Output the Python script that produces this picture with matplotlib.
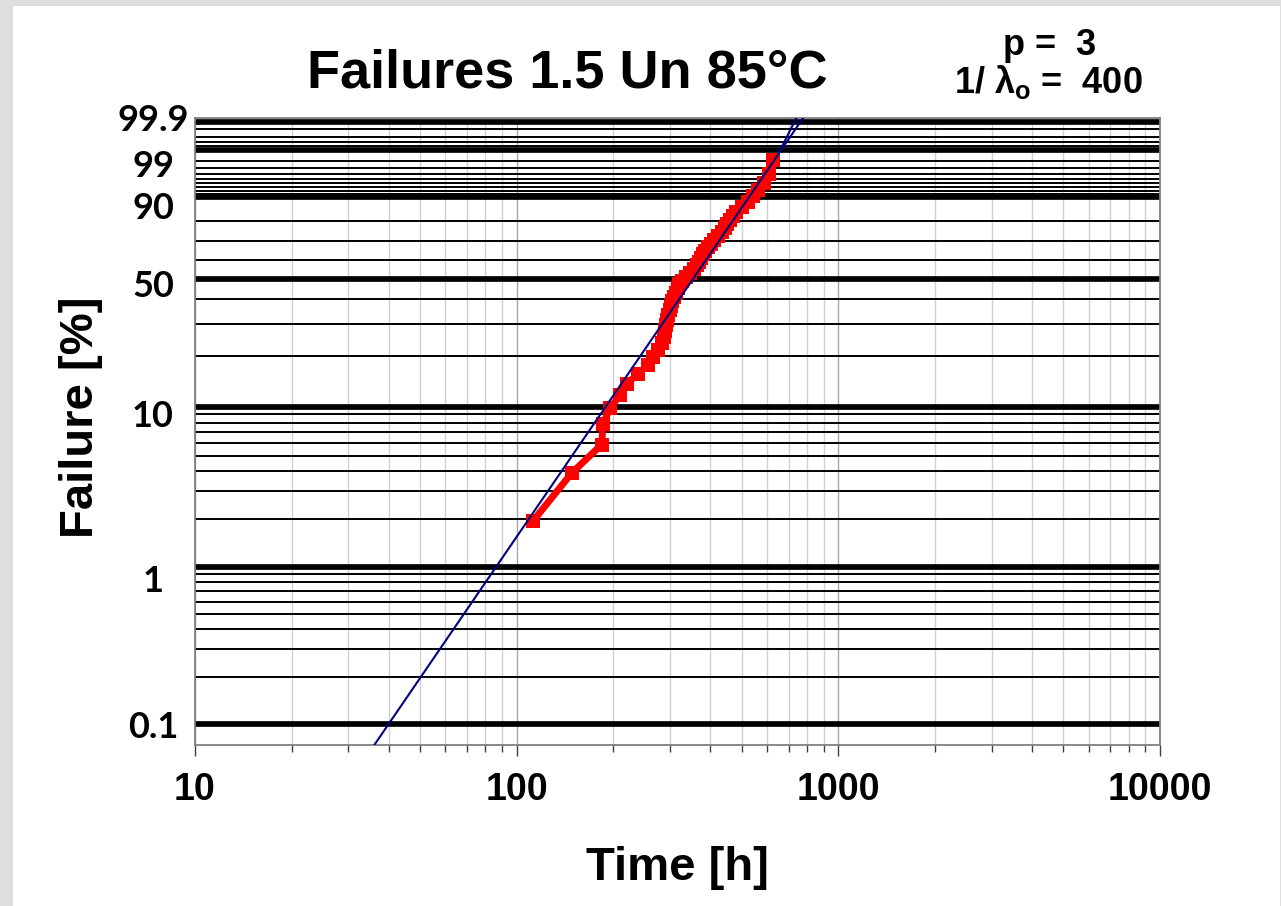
import numpy as np
import matplotlib
matplotlib.use("Agg")
import matplotlib.pyplot as plt
from matplotlib.patches import Rectangle
from matplotlib.ticker import FixedLocator, FixedFormatter, NullLocator, LogLocator

# ---------------- data ----------------
time_h = [112.6, 148.5, 183.8, 185.5, 195, 209.5, 219.8, 238.3, 256, 265,
          275, 283, 287, 289, 291, 293, 295, 300, 302, 305,
          308, 313, 317, 320, 326.5, 336, 345.7, 355.7, 363.5, 368.7,
          374, 379.5, 386.3, 393.3, 401.8, 410.5, 422.4, 434.6, 444, 450.5,
          460.3, 470.3, 480.5, 501.4, 523.5, 542.7, 562.3, 587, 608.5, 626]
failure_pct = [1.96, 3.92, 5.88, 7.84, 9.80, 11.76, 13.73, 15.69, 17.65, 19.61,
               21.57, 23.53, 25.49, 27.45, 29.41, 31.37, 33.33, 35.29, 37.25, 39.22,
               41.18, 43.14, 45.10, 47.06, 49.02, 50.98, 52.94, 54.90, 56.86, 58.82,
               60.78, 62.75, 64.71, 66.67, 68.63, 70.59, 72.55, 74.51, 76.47, 78.43,
               80.39, 82.35, 84.31, 86.27, 88.24, 90.20, 92.16, 94.12, 96.08, 98.04]

shape_p = 3
scale_inv_lambda = 400
fit_time = [36, 780]

branch_time = [650, 760]
branch_pct = [98.64, 99.972]

x_ticks = [10, 100, 1000, 10000]
x_tick_labels = ["10", "100", "1000", "10000"]
y_label_vals = [0.1, 1, 10, 50, 90, 99, 99.9]
y_label_txt = ["0.1", "1", "10", "50", "90", "99", "99.9"]
y_label_drop_px = [14, 25, 20, 18, 22, 27, 9]

thick_pct = [0.1, 1, 10, 50, 90, 99, 99.9]
thin_pct = [0.2, 0.3, 0.4, 0.5, 0.6, 0.7, 0.8, 0.9,
            2, 3, 4, 5, 6, 7, 8, 9,
            20, 30, 40, 60, 70, 80,
            91, 92, 93, 94, 95, 96, 97, 98,
            99.2, 99.4, 99.6, 99.8]

# ---------------- weibull scale ----------------
def fwd(p):
    p = np.asarray(p, dtype=float)
    with np.errstate(all="ignore"):
        return np.log(-np.log(1.0 - p / 100.0))

def inv(w):
    w = np.asarray(w, dtype=float)
    with np.errstate(all="ignore"):
        return 100.0 * (1.0 - np.exp(-np.exp(w)))

fit_pct = [100.0 * (1.0 - np.exp(-(t / scale_inv_lambda) ** shape_p)) for t in fit_time]

plt.rcParams["font.family"] = ["Liberation Sans", "DejaVu Sans"]
plt.rcParams["mathtext.fontset"] = "custom"
plt.rcParams["mathtext.rm"] = "Liberation Sans:bold"
plt.rcParams["mathtext.it"] = "Liberation Sans:bold"
plt.rcParams["mathtext.bf"] = "Liberation Sans:bold"

W, H = 1281, 906
fig = plt.figure(figsize=(W / 100, H / 100), dpi=100)
fig.patch.set_facecolor("#dedede")
fig.add_artist(Rectangle((13 / W, 0), (1280 - 13) / W, 900 / H,
                         transform=fig.transFigure, facecolor="white",
                         edgecolor="none", zorder=0))

left, right, top, bottom = 195, 1160, 117.7, 745.3
ax = fig.add_axes([left / W, 1 - bottom / H, (right - left) / W, (bottom - top) / H])
ax.set_facecolor("white")
ax.set_xscale("log")
ax.set_yscale("function", functions=(fwd, inv))
ax.set_xlim(10, 10000)
ax.set_ylim(0.0731, 99.9364)

# horizontal percent lines
for v in thin_pct:
    ax.axhline(v, color="black", lw=1.4, zorder=1)
for v in thick_pct:
    ax.axhline(v, color="black", lw=4.1, zorder=1)

# vertical grid
ax.xaxis.set_major_locator(FixedLocator(x_ticks))
ax.xaxis.set_major_formatter(FixedFormatter(x_tick_labels))
ax.xaxis.set_minor_locator(LogLocator(base=10, subs=np.arange(2, 10)))
ax.xaxis.set_minor_formatter(FixedFormatter([]))
ax.grid(True, which="major", axis="x", color="#a6a6a6", lw=1.0, zorder=0)
ax.grid(True, which="minor", axis="x", color="#d0d0d0", lw=1.0, zorder=0)
ax.set_axisbelow(True)

ax.set_yticks([])
ax.yaxis.set_minor_locator(NullLocator())

ax.tick_params(axis="x", which="major", length=8, width=1, color="#404040",
               direction="out", pad=11, labelsize=27)
ax.tick_params(axis="x", which="minor", length=5, width=1, color="#404040",
               direction="out")
for lbl in ax.get_xticklabels():
    lbl.set_fontweight("bold")

for s in ax.spines.values():
    s.set_color("#7f7f7f")
    s.set_linewidth(1.3)

# data
ax.plot(time_h, failure_pct, color="#ff0000", lw=5, marker="s",
        markersize=10, markeredgewidth=0, zorder=3, clip_on=True)
# fits
ax.plot(fit_time, fit_pct, color="#000080", lw=1.5, zorder=4)
ax.plot(branch_time, branch_pct, color="#000080", lw=1.5, zorder=4)

# y labels
for v, t, d in zip(y_label_vals, y_label_txt, y_label_drop_px):
    ax.annotate(t, xy=((153 - left) / (right - left), v),
                xycoords=ax.get_yaxis_transform(),
                xytext=(0, -d * 0.72), textcoords="offset points",
                ha="center", va="baseline", fontsize=26, fontweight="bold",
                fontstyle="normal",
                family=["Lato", "DejaVu Sans"], annotation_clip=False)

# texts
fig.text(567 / W, 1 - 87 / H, "Failures 1.5 Un 85°C", ha="center", va="baseline",
         fontsize=39, fontweight="bold")
fig.text(1050 / W, 1 - 55 / H, "p =  3", ha="center", va="baseline",
         fontsize=26, fontweight="bold")
fig.text(1048 / W, 1 - 93 / H, r"1/ $\lambda_{o}$ =  400", ha="center", va="baseline",
         fontsize=26, fontweight="bold")
fig.text(677.5 / W, 1 - 880 / H, "Time [h]", ha="center", va="baseline",
         fontsize=34, fontweight="bold")
fig.text(81 / W, 1 - 417 / H, "Failure [%]", ha="center", va="center",
         rotation=90, fontsize=34, fontweight="bold")

fig.savefig("out.png", dpi=100, facecolor=fig.get_facecolor())
